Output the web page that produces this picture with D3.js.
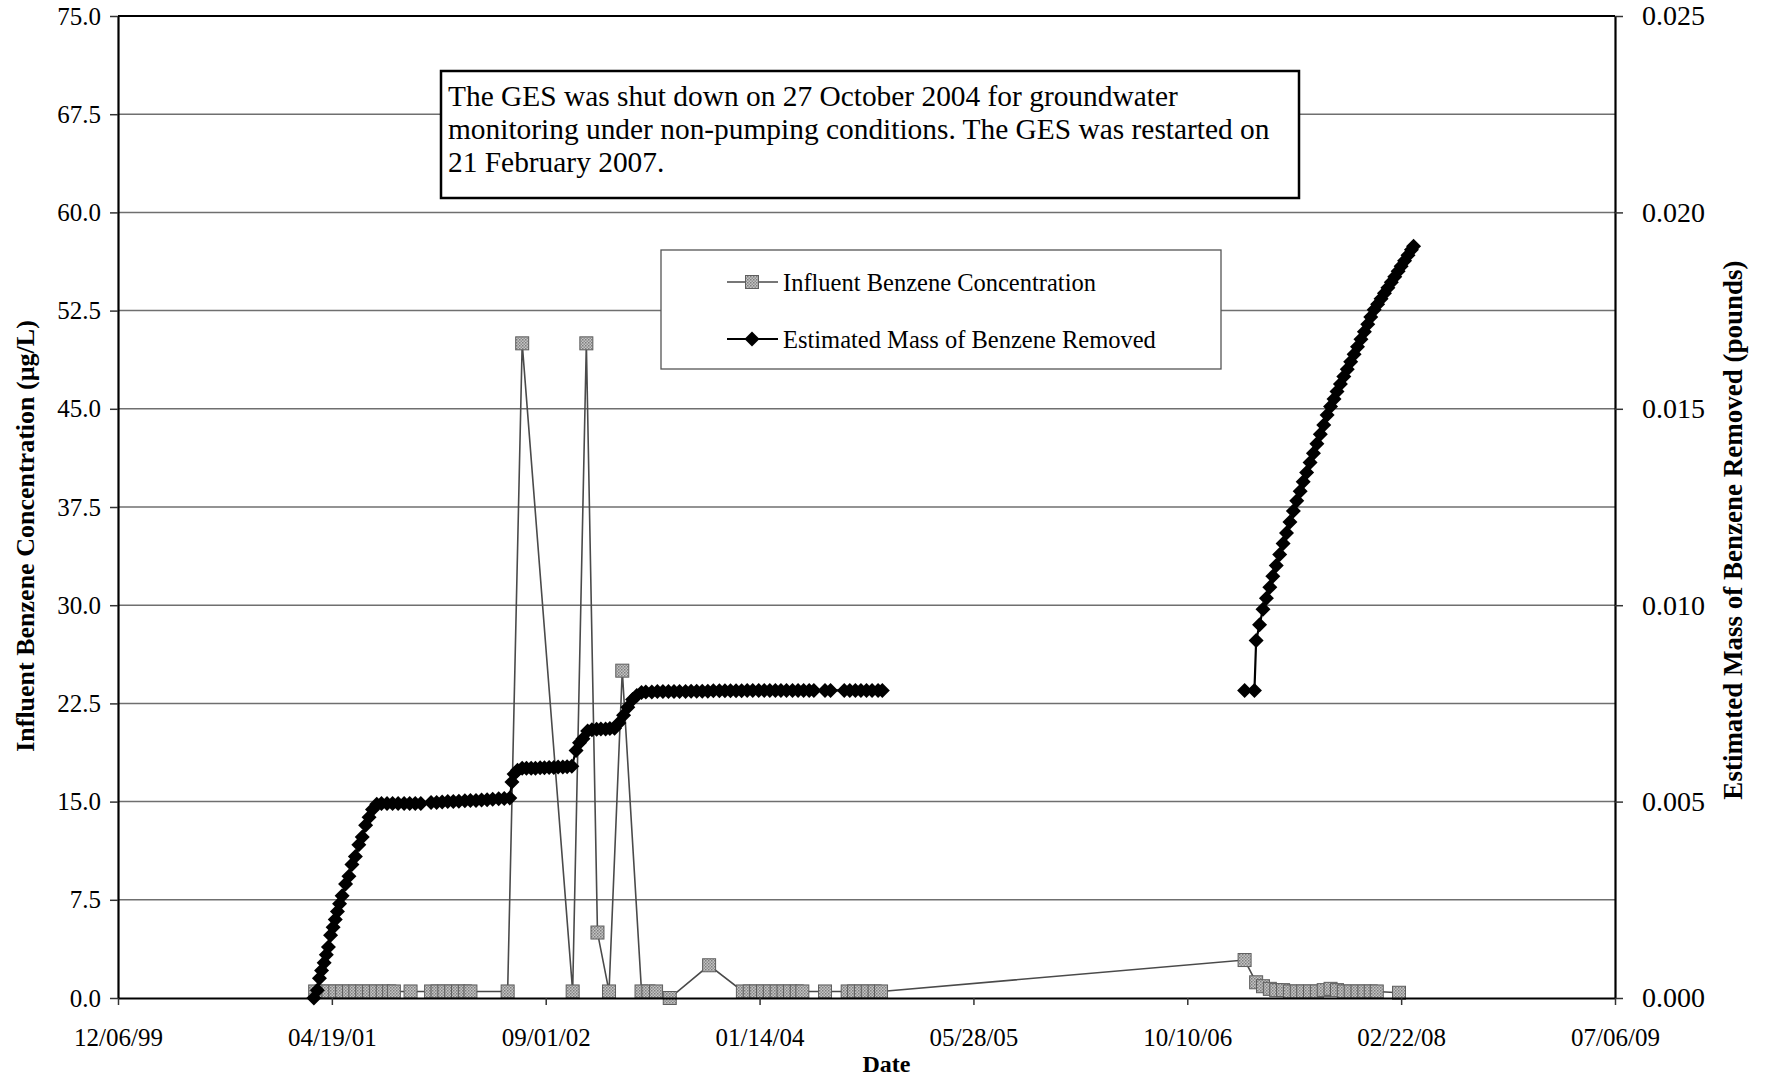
<!DOCTYPE html>
<html>
<head>
<meta charset="utf-8">
<script src="https://cdn.jsdelivr.net/npm/d3@7"></script>
<style>
  body { margin: 0; background: #fff; }
  text { font-family: "Liberation Serif", "Times New Roman", serif; fill: #000; }
</style>
</head>
<body>
<svg id="chart" width="1766" height="1077"></svg>
<script>
// ---- data ----
const xTickLabels = ["12/06/99", "04/19/01", "09/01/02", "01/14/04", "05/28/05", "10/10/06", "02/22/08", "07/06/09"];
const leftTicks = [0, 7.5, 15, 22.5, 30, 37.5, 45, 52.5, 60, 67.5, 75];
const rightTicks = [0, 0.005, 0.010, 0.015, 0.020, 0.025];

const concDates = [
  "2001-03-11", "2001-03-26", "2001-04-11", "2001-04-27", "2001-05-13", "2001-05-29", "2001-06-13",
  "2001-06-29", "2001-07-15", "2001-07-31", "2001-08-16", "2001-08-31", "2001-09-11", "2001-10-20",
  "2001-12-07", "2001-12-22", "2002-01-07", "2002-01-23", "2002-02-08", "2002-02-24", "2002-03-09",
  "2002-06-04", "2002-07-08", "2002-11-03", "2002-12-05", "2002-12-31", "2003-01-27", "2003-02-27",
  "2003-04-13", "2003-04-29", "2003-05-17", "2003-06-18", "2003-09-18", "2003-12-06", "2003-12-22",
  "2004-01-06", "2004-01-22", "2004-02-07", "2004-02-23", "2004-03-10", "2004-03-25", "2004-04-10",
  "2004-04-23", "2004-06-15", "2004-08-07", "2004-08-22", "2004-09-07", "2004-09-23", "2004-10-09",
  "2004-10-24",
  "2007-02-21", "2007-03-20", "2007-04-05", "2007-04-21", "2007-05-06", "2007-05-22", "2007-06-07",
  "2007-06-23", "2007-07-08", "2007-07-24", "2007-08-09", "2007-08-25", "2007-09-10", "2007-09-25",
  "2007-10-11", "2007-10-27", "2007-11-12", "2007-11-28", "2007-12-13", "2007-12-27", "2008-02-17"
];
const concValues = [
  0.5, 0.5, 0.5, 0.5, 0.5, 0.5, 0.5,
  0.5, 0.5, 0.5, 0.5, 0.5, 0.5, 0.5,
  0.5, 0.5, 0.5, 0.5, 0.5, 0.5, 0.5,
  0.5, 50, 0.5, 50, 5, 0.5, 25,
  0.5, 0.5, 0.5, 0, 2.5, 0.5, 0.5,
  0.5, 0.5, 0.5, 0.5, 0.5, 0.5, 0.5,
  0.5, 0.5, 0.5, 0.5, 0.5, 0.5, 0.5,
  0.5,
  2.9, 1.2, 0.9, 0.7, 0.6, 0.6, 0.5,
  0.5, 0.5, 0.5, 0.5, 0.6, 0.7, 0.6,
  0.5, 0.5, 0.5, 0.5, 0.5, 0.5, 0.4
];

// mass removed before the shutdown of 27 Oct 2004
const massDatesA = [
  "2001-03-08", "2001-03-16", "2001-03-21", "2001-03-26", "2001-04-01", "2001-04-06", "2001-04-11",
  "2001-04-16", "2001-04-22", "2001-04-27", "2001-05-02", "2001-05-07", "2001-05-13", "2001-05-21",
  "2001-05-29", "2001-06-05", "2001-06-13", "2001-06-21", "2001-06-29", "2001-07-07", "2001-07-15",
  "2001-07-23", "2001-08-02", "2001-08-13", "2001-08-26", "2001-09-08", "2001-09-21", "2001-10-05",
  "2001-10-18", "2001-10-31", "2001-11-13", "2001-12-07", "2001-12-20", "2002-01-02", "2002-01-15",
  "2002-01-28", "2002-02-10", "2002-02-24", "2002-03-09", "2002-03-22", "2002-04-04", "2002-04-17",
  "2002-04-30", "2002-05-14", "2002-05-27", "2002-06-09", "2002-06-14", "2002-06-19", "2002-06-27",
  "2002-07-08", "2002-07-18", "2002-07-29", "2002-08-08", "2002-08-19", "2002-08-29", "2002-09-09",
  "2002-09-20", "2002-09-30", "2002-10-11", "2002-10-21", "2002-11-01", "2002-11-11", "2002-11-19",
  "2002-11-27", "2002-12-08", "2002-12-18", "2002-12-29", "2003-01-08", "2003-01-19", "2003-01-29",
  "2003-02-09", "2003-02-19", "2003-03-02", "2003-03-12", "2003-03-23", "2003-04-02", "2003-04-13",
  "2003-04-23", "2003-05-07", "2003-05-20", "2003-06-02", "2003-06-15", "2003-06-28", "2003-07-11",
  "2003-07-25", "2003-08-07", "2003-08-20", "2003-09-02", "2003-09-15", "2003-09-28", "2003-10-12",
  "2003-10-25", "2003-11-07", "2003-11-20", "2003-12-03", "2003-12-16", "2003-12-29", "2004-01-12",
  "2004-01-25", "2004-02-07", "2004-02-20", "2004-03-04", "2004-03-17", "2004-03-31", "2004-04-13",
  "2004-04-26", "2004-05-09", "2004-05-20", "2004-06-15", "2004-06-28", "2004-07-30", "2004-08-12",
  "2004-08-25", "2004-09-07", "2004-09-20", "2004-10-03", "2004-10-17", "2004-10-27"
];
const massValuesA = [
  0.0000, 0.0002, 0.0005, 0.0007, 0.0009, 0.0011, 0.0013,
  0.0016, 0.0018, 0.0020, 0.0022, 0.0024, 0.0026, 0.0029,
  0.0031, 0.0034, 0.0036, 0.0039, 0.0041, 0.0044, 0.0046,
  0.0048, 0.00493, 0.00495, 0.00495, 0.00495, 0.00495, 0.00495,
  0.00495, 0.00495, 0.00495, 0.00498, 0.00498, 0.00499, 0.00500,
  0.00500, 0.00501, 0.00502, 0.00503, 0.00503, 0.00504, 0.00505,
  0.00506, 0.00507, 0.00508, 0.00509, 0.00550, 0.00570, 0.00580,
  0.00585, 0.00585, 0.00585, 0.00585, 0.00586, 0.00586, 0.00587,
  0.00587, 0.00588, 0.00588, 0.00589, 0.00590, 0.00630, 0.00650,
  0.00660, 0.00680, 0.00683, 0.00684, 0.00685, 0.00685, 0.00686,
  0.00687, 0.00700, 0.00720, 0.00740, 0.00760, 0.00770, 0.00778,
  0.00779, 0.00779, 0.00780, 0.00780, 0.00780, 0.00780, 0.00780,
  0.00780, 0.00781, 0.00781, 0.00781, 0.00781, 0.00782, 0.00782,
  0.00782, 0.00782, 0.00782, 0.00782, 0.00783, 0.00783, 0.00783,
  0.00783, 0.00783, 0.00783, 0.00783, 0.00783, 0.00783, 0.00783,
  0.00783, 0.00783, 0.00783, 0.00783, 0.00783, 0.00783, 0.00783,
  0.00783, 0.00783, 0.00783, 0.00783, 0.00783, 0.00783
];

// mass removed after the restart of 21 Feb 2007
const massDatesB = [
  "2007-02-21", "2007-03-16", "2007-03-20", "2007-03-28", "2007-04-05", "2007-04-13", "2007-04-21",
  "2007-04-28", "2007-05-06", "2007-05-14", "2007-05-22", "2007-05-30", "2007-06-07", "2007-06-15",
  "2007-06-23", "2007-07-01", "2007-07-08", "2007-07-16", "2007-07-24", "2007-08-01", "2007-08-09",
  "2007-08-17", "2007-08-25", "2007-09-02", "2007-09-10", "2007-09-18", "2007-09-25", "2007-10-03",
  "2007-10-11", "2007-10-19", "2007-10-27", "2007-11-04", "2007-11-12", "2007-11-20", "2007-11-28",
  "2007-12-06", "2007-12-13", "2007-12-21", "2007-12-29", "2008-01-06", "2008-01-14", "2008-01-22",
  "2008-01-30", "2008-02-07", "2008-02-15", "2008-02-22", "2008-03-01", "2008-03-09", "2008-03-17",
  "2008-03-22"
];
const massValuesB = [
  0.00783, 0.00783, 0.0091, 0.0095, 0.0099, 0.01018, 0.01046,
  0.01074, 0.01101, 0.01129, 0.01157, 0.01184, 0.01212, 0.01240,
  0.01266, 0.01290, 0.01314, 0.01338, 0.01363, 0.01387, 0.01411,
  0.01435, 0.01459, 0.01484, 0.01506, 0.01525, 0.01544, 0.01563,
  0.01582, 0.01601, 0.01620, 0.01639, 0.01658, 0.01677, 0.01696,
  0.01715, 0.01734, 0.01752, 0.01766, 0.01780, 0.01794, 0.01808,
  0.01822, 0.01836, 0.01850, 0.01863, 0.01877, 0.01891, 0.01905,
  0.01914
];

const noteLines = [
  "The GES was shut down on 27 October 2004 for groundwater",
  "monitoring under non-pumping conditions. The GES was restarted on",
  "21 February 2007."
];
const legendLabels = ["Influent Benzene Concentration", "Estimated Mass of Benzene Removed"];

// ---- chart ----
const parseDay = d3.utcParse("%Y-%m-%d");
const parseTick = d3.utcParse("%m/%d/%y");

const plot = { left: 118, right: 1615, top: 16, bottom: 998 };

const xTicks = xTickLabels.map(parseTick);
const x = d3.scaleUtc()
  .domain([xTicks[0], xTicks[xTicks.length - 1]])
  .range([plot.left, plot.right]);
const yLeft = d3.scaleLinear().domain([0, 75]).range([plot.bottom, plot.top]);
const yRight = d3.scaleLinear().domain([0, 0.025]).range([plot.bottom, plot.top]);

const conc = concDates.map((d, i) => ({ date: parseDay(d), value: concValues[i] }));
const massA = massDatesA.map((d, i) => ({ date: parseDay(d), value: massValuesA[i] }));
const massB = massDatesB.map((d, i) => ({ date: parseDay(d), value: massValuesB[i] }));

const svg = d3.select("#chart");
svg.append("rect").attr("width", 1766).attr("height", 1077).attr("fill", "#fff");

// textured grey fill for the square markers
const defs = svg.append("defs");
const pat = defs.append("pattern").attr("id", "dither")
  .attr("width", 3).attr("height", 3).attr("patternUnits", "userSpaceOnUse");
pat.append("rect").attr("width", 3).attr("height", 3).attr("fill", "#c4c4c4");
pat.append("rect").attr("width", 1.5).attr("height", 1.5).attr("fill", "#7d7d7d");
pat.append("rect").attr("x", 1.5).attr("y", 1.5).attr("width", 1.5).attr("height", 1.5).attr("fill", "#8f8f8f");

// horizontal gridlines
svg.append("g").selectAll("line")
  .data(leftTicks.slice(1, -1))
  .join("line")
  .attr("x1", plot.left).attr("x2", plot.right)
  .attr("y1", d => yLeft(d)).attr("y2", d => yLeft(d))
  .attr("stroke", "#6f6f6f").attr("stroke-width", 1.5);

svg.append("line")
  .attr("x1", plot.left).attr("x2", plot.right)
  .attr("y1", plot.top).attr("y2", plot.top)
  .attr("stroke", "#000").attr("stroke-width", 2);

// influent concentration (left axis)
const concLine = d3.line().x(d => x(d.date)).y(d => yLeft(d.value));
svg.append("path").datum(conc)
  .attr("d", concLine)
  .attr("fill", "none").attr("stroke", "#4a4a4a").attr("stroke-width", 1.6);

svg.append("g").selectAll("rect")
  .data(conc)
  .join("rect")
  .attr("x", d => x(d.date) - 6.5).attr("y", d => yLeft(d.value) - 6.5)
  .attr("width", 13).attr("height", 13)
  .attr("fill", "url(#dither)").attr("stroke", "#5e5e5e").attr("stroke-width", 1);

// estimated mass removed (right axis)
const massLine = d3.line().x(d => x(d.date)).y(d => yRight(d.value));
const diamond = "M0,-7.5L7.5,0L0,7.5L-7.5,0Z";
[massA, massB].forEach(seg => {
  svg.append("path").datum(seg)
    .attr("d", massLine)
    .attr("fill", "none").attr("stroke", "#000").attr("stroke-width", 2.2);
  svg.append("g").selectAll("path")
    .data(seg)
    .join("path")
    .attr("transform", d => `translate(${x(d.date)},${yRight(d.value)})`)
    .attr("d", diamond)
    .attr("fill", "#000");
});

// axes
const leftAxis = svg.append("g")
  .attr("transform", `translate(${plot.left},0)`)
  .call(d3.axisLeft(yLeft).tickValues(leftTicks).tickFormat(d3.format(".1f"))
    .tickSize(8).tickSizeOuter(0).tickPadding(9));
leftAxis.selectAll("text").style("font-size", "25px");

const rightAxis = svg.append("g")
  .attr("transform", `translate(${plot.right},0)`)
  .call(d3.axisRight(yRight).tickValues(rightTicks).tickFormat(d3.format(".3f"))
    .tickSize(8).tickSizeOuter(0).tickPadding(19));
rightAxis.selectAll("text").style("font-size", "28px");

const bottomAxis = svg.append("g")
  .attr("transform", `translate(0,${plot.bottom})`)
  .call(d3.axisBottom(x).tickValues(xTicks).tickFormat(d3.utcFormat("%m/%d/%y"))
    .tickSize(7).tickSizeOuter(0));
bottomAxis.selectAll("text").style("font-size", "25px")
  .attr("y", 30).attr("dy", "0.71em");

[leftAxis, rightAxis, bottomAxis].forEach(g => {
  g.attr("font-family", null);
  g.select(".domain").attr("stroke", "#000").attr("stroke-width", 2.2);
  g.selectAll(".tick line").attr("stroke", "#333").attr("stroke-width", 1.5);
});

// axis titles
svg.append("text")
  .attr("x", (plot.left + plot.right) / 2 + 20).attr("y", 1072)
  .attr("text-anchor", "middle")
  .style("font-size", "24px").style("font-weight", "bold")
  .text("Date");

svg.append("text")
  .attr("transform", "translate(25,536) rotate(-90)")
  .attr("text-anchor", "middle").attr("dy", "0.35em")
  .style("font-size", "26px").style("font-weight", "bold")
  .text("Influent Benzene Concentration (µg/L)");

svg.append("text")
  .attr("transform", "translate(1733,530) rotate(-90)")
  .attr("text-anchor", "middle").attr("dy", "0.35em")
  .style("font-size", "27px").style("font-weight", "bold")
  .text("Estimated Mass of Benzene Removed (pounds)");

// note box
const note = svg.append("g");
note.append("rect")
  .attr("x", 441).attr("y", 71).attr("width", 858).attr("height", 127)
  .attr("fill", "#fff").attr("stroke", "#000").attr("stroke-width", 2.5);
note.selectAll("text")
  .data(noteLines)
  .join("text")
  .attr("x", 448).attr("y", (d, i) => 106 + i * 33)
  .style("font-size", "29.4px")
  .text(d => d);

// legend
const legend = svg.append("g");
legend.append("rect")
  .attr("x", 661).attr("y", 250).attr("width", 560).attr("height", 119)
  .attr("fill", "#fff").attr("stroke", "#555").attr("stroke-width", 1.3);

const legendRows = legend.selectAll("g")
  .data(legendLabels)
  .join("g")
  .attr("transform", (d, i) => `translate(0,${282 + i * 57})`);

legendRows.append("line")
  .attr("x1", 727).attr("x2", 778)
  .attr("stroke", (d, i) => i === 0 ? "#4a4a4a" : "#000")
  .attr("stroke-width", (d, i) => i === 0 ? 1.6 : 2.2);

legendRows.filter((d, i) => i === 0).append("rect")
  .attr("x", 745.5).attr("y", -6.5).attr("width", 13).attr("height", 13)
  .attr("fill", "url(#dither)").attr("stroke", "#5e5e5e");

legendRows.filter((d, i) => i === 1).append("path")
  .attr("transform", "translate(752,0)")
  .attr("d", diamond).attr("fill", "#000");

legendRows.append("text")
  .attr("x", 783).attr("dy", "0.35em")
  .style("font-size", "24.5px")
  .text(d => d);
</script>
</body>
</html>
